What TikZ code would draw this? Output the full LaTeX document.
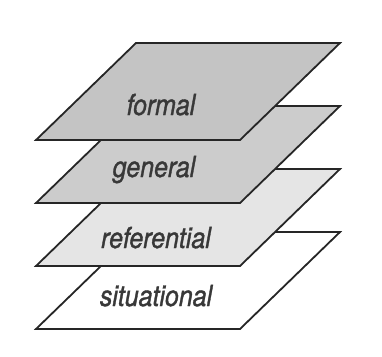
\documentclass[tikz,border=0pt]{standalone}
\usepackage{fontspec}
\newfontfamily\planefont[FakeStretch=0.86,FakeBold=1.2]{TeX Gyre Heros}
\usepackage{tikz}

\begin{document}
\begin{tikzpicture}[x=1pt,y=-1pt,
    plane/.style={draw=black!85, line width=1.8pt, line join=miter},
    lbl/.style={font=\planefont\itshape\fontsize{29}{30}\selectfont, text=black!78, anchor=base, inner sep=0pt}]
    \useasboundingbox (0,0) rectangle (382,356);
    % Situational plane (bottom)
    \filldraw[plane, fill=white] (36,329) -- (240,329) -- (340,232) -- (136,232) -- cycle;
    % Referential plane
    \filldraw[plane, fill=black!10] (36,266) -- (240,266) -- (340,169) -- (136,169) -- cycle;
    % General plane
    \filldraw[plane, fill=black!20] (36,203) -- (240,203) -- (340,106) -- (136,106) -- cycle;
    % Formal plane (top)
    \filldraw[plane, fill=black!23] (36,140) -- (240,140) -- (340,43) -- (136,43) -- cycle;
    % Plane labels
    \node[lbl] (formal) at (161,115) {formal};
    \node[lbl] (general) at (154,177) {general};
    \node[lbl] (referential) at (156,248) {referential};
    \node[lbl] (situational) at (156,306) {situational};
\end{tikzpicture}
\end{document}
